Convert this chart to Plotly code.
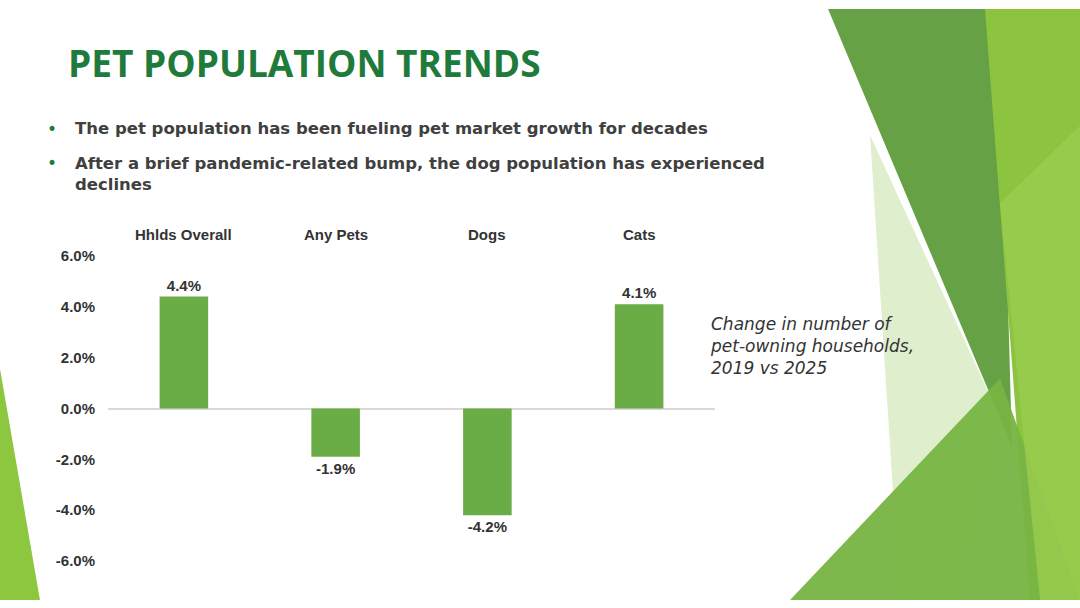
import plotly.graph_objects as go

categories = ["Hhlds Overall", "Any Pets", "Dogs", "Cats"]
changes = [4.4, -1.9, -4.2, 4.1]
value_labels = ["4.4%", "-1.9%", "-4.2%", "4.1%"]
y_ticks = [-6, -4, -2, 0, 2, 4, 6]

W, H = 1080, 608


def px(points):
    # pixel points -> paper path
    s = ""
    for i, (x, y) in enumerate(points):
        s += ("M" if i == 0 else "L") + f"{x / W:.4f},{1 - y / H:.4f} "
    return s + "Z"


fig = go.Figure()

fig.add_trace(go.Bar(
    x=list(range(len(categories))), y=changes, width=0.32,
    marker=dict(color="#6AAC46", line=dict(width=0)),
    text=value_labels, textposition="outside",
    textfont=dict(family="Liberation Sans", size=15, color="#333333", weight="bold"),
    cliponaxis=False,
))

deco = [
    ([(828, 0), (1000, 0), (1012, 450)], "#5E9C3C", 0.95),
    ([(985, 0), (1080, 0), (1080, 608), (1030, 608)], "#8CC43F", 1.0),
    ([(870, 130), (1000, 420), (960, 608), (900, 608)], "#C9E3AA", 0.6),
    ([(790, 608), (1000, 380), (1080, 608)], "#77B443", 0.95),
    ([(1000, 200), (1080, 120), (1080, 608), (1040, 608)], "#9ACD50", 0.8),
    ([(0, 370), (40, 608), (0, 608)], "#8DC63F", 1.0),
]
shapes = []
for pts, col, op in deco:
    shapes.append(dict(type="path", xref="paper", yref="paper", path=px(pts),
                       fillcolor=col, opacity=op, line=dict(width=0), layer="below"))

ann = [
    dict(x=66 / W, y=1 - 55 / H, text="<b>PET POPULATION TRENDS</b>",
         font=dict(family="Open Sans", size=37, color="#1E7B3B")),
    dict(x=45 / W, y=1 - 123 / H, text="•",
         font=dict(family="DejaVu Sans", size=17, color="#1E7B3B")),
    dict(x=73 / W, y=1 - 123 / H,
         text="<b>The pet population has been fueling pet market growth for decades</b>",
         font=dict(family="DejaVu Sans", size=16.5, color="#404040")),
    dict(x=45 / W, y=1 - 158 / H, text="•",
         font=dict(family="DejaVu Sans", size=17, color="#1E7B3B")),
    dict(x=73 / W, y=1 - 170 / H, align="left",
         text="<b>After a brief pandemic-related bump, the dog population has experienced<br>declines</b>",
         font=dict(family="DejaVu Sans", size=16.5, color="#404040")),
    dict(x=708 / W, y=1 - 347 / H, align="left",
         text="<i>Change in number of<br>pet-owning households,<br>2019 vs 2025</i>",
         font=dict(family="DejaVu Sans", size=17, color="#333333")),
]
for i, c in enumerate(categories):
    ann.append(dict(x=i, xref="x", xanchor="center", y=1 - 232 / H, text=f"<b>{c}</b>",
                    font=dict(family="Liberation Sans", size=15, color="#333333")))
for a in ann:
    a.setdefault("xref", "paper")
    a.setdefault("yref", "paper")
    a.setdefault("xanchor", "left")
    a["yanchor"] = "middle"
    a["showarrow"] = False

fig.update_layout(
    width=W, height=H, margin=dict(l=0, r=0, t=0, b=0),
    paper_bgcolor="white", plot_bgcolor="rgba(0,0,0,0)",
    showlegend=False, shapes=shapes, annotations=ann,
    xaxis=dict(domain=[108 / W, 715 / W], range=[-0.5, 3.5], showticklabels=False,
               showgrid=False, zeroline=False),
    yaxis=dict(domain=[1 - 568 / H, 1 - 254 / H], range=[-6, 6], tickvals=y_ticks,
               ticktext=[f"{v:.1f}%" for v in y_ticks], showgrid=False,
               zeroline=True, zerolinecolor="#D9D9D9", zerolinewidth=1.5,
               tickfont=dict(family="Liberation Sans", size=15, color="#333333", weight="bold"),
               ticklabelstandoff=12),
)

fig.write_html("out.html", config={"displayModeBar": False},
               post_script="document.body.style.margin='0';document.body.style.overflow='hidden';")
